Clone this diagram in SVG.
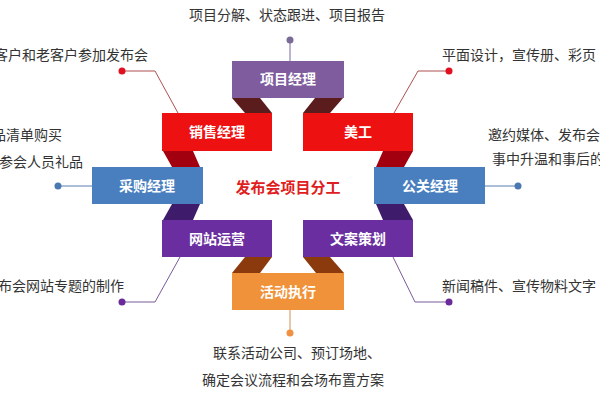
<svg xmlns="http://www.w3.org/2000/svg" width="600" height="400" viewBox="0 0 600 400">
<style>
.t{font-family:"Noto Sans CJK SC","Liberation Sans",sans-serif;font-size:14px;fill:#333}
.b{font-family:"Noto Sans CJK SC","Liberation Sans",sans-serif;font-size:14px;fill:#fff;font-weight:bold;text-anchor:middle}
.ln{fill:none;stroke-width:1}
</style>
<rect width="600" height="400" fill="#fff"/>
<g id="connectors">
<polygon points="232,98 260,98 272,113 245,113" fill="#5a1c1c"/>
<polygon points="315,98 343,98 330,113 303,113" fill="#5a1c1c"/>
<polygon points="163,151 193,151 200,167 172,167" fill="#a3000f"/>
<polygon points="383,151 413,151 404,167 376,167" fill="#a3000f"/>
<polygon points="172,204 200,204 193,220 163,220" fill="#3e1b6b"/>
<polygon points="376,204 404,204 413,220 383,220" fill="#3e1b6b"/>
<polygon points="245,257 272,257 260,273 232,273" fill="#8a3a0c"/>
<polygon points="303,257 330,257 344,273 316,273" fill="#8a3a0c"/>
<polyline class="ln" stroke="#7a6a9a" points="290,40 290,61"/>
<polyline class="ln" stroke="#b05050" points="122,71 155,71 178,113"/>
<polyline class="ln" stroke="#b05050" points="449,71 418,71 394,113"/>
<polyline class="ln" stroke="#5a7fb0" points="58,186 92,186"/>
<polyline class="ln" stroke="#5a7fb0" points="518,186 485,186"/>
<polyline class="ln" stroke="#7a5a9a" points="122,302 155,302 180,257"/>
<polyline class="ln" stroke="#7a5a9a" points="449,302 415,302 393,257"/>
<polyline class="ln" stroke="#d09050" points="290,310 290,333"/>
<circle cx="290" cy="40" r="3.5" fill="#7a6a9a"/>
<circle cx="122" cy="71" r="3.5" fill="#e01020"/>
<circle cx="449" cy="71" r="3.5" fill="#e01020"/>
<circle cx="58" cy="186" r="3.5" fill="#4a78b0"/>
<circle cx="518" cy="186" r="3.5" fill="#4a78b0"/>
<circle cx="122" cy="302" r="3.5" fill="#6a2a9a"/>
<circle cx="449" cy="302" r="3.5" fill="#6a2a9a"/>
<circle cx="290" cy="333" r="3.5" fill="#f09040"/>
</g>
<g id="n-pm"><rect x="232" y="61" width="112" height="37" fill="#7e5c9e"/><text class="b" x="288" y="84">项目经理</text></g>
<g id="n-sales"><rect x="162" y="113" width="110" height="38" fill="#ee1111"/><text class="b" x="217" y="137">销售经理</text></g>
<g id="n-art"><rect x="303" y="113" width="110" height="38" fill="#ee1111"/><text class="b" x="358" y="137">美工</text></g>
<g id="n-buy"><rect x="92" y="167" width="111" height="37" fill="#4a7fbf"/><text class="b" x="147" y="191">采购经理</text></g>
<g id="n-pr"><rect x="374" y="167" width="111" height="37" fill="#4a7fbf"/><text class="b" x="430" y="191">公关经理</text></g>
<g id="n-web"><rect x="162" y="220" width="110" height="37" fill="#6a2ea0"/><text class="b" x="217" y="244">网站运营</text></g>
<g id="n-copy"><rect x="303" y="220" width="110" height="37" fill="#6a2ea0"/><text class="b" x="358" y="244">文案策划</text></g>
<g id="n-event"><rect x="232" y="273" width="112" height="37" fill="#f0923a"/><text class="b" x="288" y="297">活动执行</text></g>
<g id="center"><text x="288" y="193" text-anchor="middle" font-family="Noto Sans CJK SC,sans-serif" font-size="15" font-weight="bold" fill="#e02020">发布会项目分工</text></g>
<g id="labels">
<text class="t" x="287" y="20" text-anchor="middle">项目分解、状态跟进、项目报告</text>
<text class="t" x="148" y="60" text-anchor="end">客户和老客户参加发布会</text>
<text class="t" x="442" y="60">平面设计，宣传册、彩页</text>
<text class="t" x="62" y="140" text-anchor="end">品清单购买</text>
<text class="t" x="83" y="167" text-anchor="end">参会人员礼品</text>
<text class="t" x="488" y="140">邀约媒体、发布会</text>
<text class="t" x="492" y="164">事中升温和事后的</text>
<text class="t" x="124" y="291" text-anchor="end">布会网站专题的制作</text>
<text class="t" x="442" y="291">新闻稿件、宣传物料文字</text>
<text class="t" x="297" y="358" text-anchor="middle">联系活动公司、预订场地、</text>
<text class="t" x="293" y="385" text-anchor="middle">确定会议流程和会场布置方案</text>
</g>
</svg>
